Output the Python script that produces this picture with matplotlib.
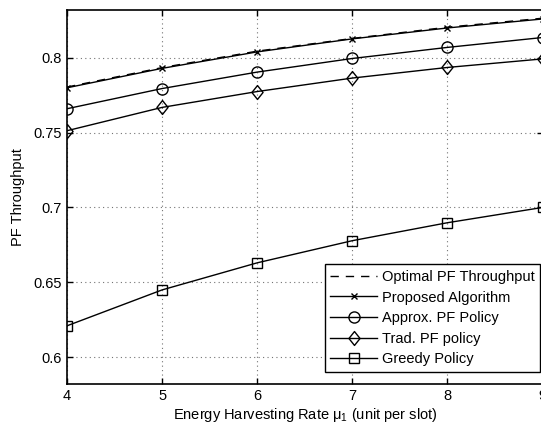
import numpy as np
import matplotlib.pyplot as plt
from matplotlib.path import Path

plt.rcParams['font.family'] = ['Liberation Sans', 'DejaVu Sans']
plt.rcParams['mathtext.fontset'] = 'custom'
plt.rcParams['mathtext.rm'] = 'Liberation Sans'
plt.rcParams['mathtext.it'] = 'Liberation Sans'

# energy harvesting rate (x axis)
rate = [4, 5, 6, 7, 8, 9]

optimal = [0.7805, 0.7935, 0.8045, 0.8130, 0.8205, 0.8265]
proposed = [0.7800, 0.7930, 0.8040, 0.8127, 0.8200, 0.8260]
approx_pf = [0.7660, 0.7795, 0.7905, 0.7996, 0.8070, 0.8136]
trad_pf = [0.7513, 0.7669, 0.7775, 0.7865, 0.7936, 0.7993]
greedy = [0.6209, 0.6449, 0.6630, 0.6778, 0.6898, 0.7000]

# matlab style diamond, a bit wider than 'd'
diamond = Path([(0, 1), (0.8, 0), (0, -1), (-0.8, 0), (0, 1)],
               [Path.MOVETO, Path.LINETO, Path.LINETO, Path.LINETO, Path.CLOSEPOLY])

fig = plt.figure(figsize=(5.41, 4.23), dpi=100)
ax = fig.add_axes([67 / 541, 39 / 423, (542.5 - 67) / 541, (384 - 10) / 423])

ax.plot(rate, optimal, 'k', linestyle=(0, (6, 5)), lw=1.0, label='Optimal PF Throughput')
ax.plot(rate, proposed, 'k-', lw=1.0, marker='x', ms=5, label='Proposed Algorithm')
ax.plot(rate, approx_pf, 'k-', lw=1.0, marker='o', ms=8, mfc='none', label='Approx. PF Policy')
ax.plot(rate, trad_pf, 'k-', lw=1.0, marker=diamond, ms=10, mfc='none', label='Trad. PF policy')
ax.plot(rate, greedy, 'k-', lw=1.0, marker='s', ms=6.5, mfc='none', label='Greedy Policy')

ax.set_xlim(4, 9)
ax.set_ylim(0.582, 0.832)
ax.set_xticks(rate)
ax.set_yticks([0.6, 0.65, 0.7, 0.75, 0.8])
ax.set_yticklabels(['0.6', '0.65', '0.7', '0.75', '0.8'])
ax.tick_params(direction='in', top=True, right=True, labelsize=10.5, length=4, width=1)
ax.grid(True, linestyle=(0, (1, 3)), color='0.45', lw=0.8)
for s in ax.spines.values():
    s.set_linewidth(1.2)

ax.set_xlabel(r'Energy Harvesting Rate $\mathregular{\mu_1}$ (unit per slot)', fontsize=10.5, labelpad=2)
ax.set_ylabel('PF Throughput', fontsize=10.5, labelpad=6)

leg = ax.legend(loc='lower right', bbox_to_anchor=(0.995, 0.032), borderaxespad=0,
                fontsize=10.5, frameon=True, fancybox=False,
                edgecolor='k', framealpha=1, handlelength=3.2,
                labelspacing=0.45, borderpad=0.4, handletextpad=0.3)
leg.get_frame().set_linewidth(1.0)

fig.savefig('out.png', dpi=100)
